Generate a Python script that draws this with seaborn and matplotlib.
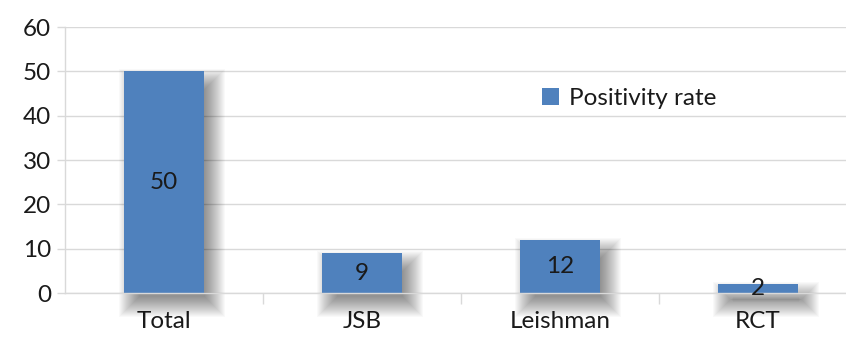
import numpy as np
import pandas as pd
import matplotlib
matplotlib.use("Agg")
import matplotlib.pyplot as plt
import seaborn as sns
from matplotlib.ticker import FixedLocator

categories = ["Total", "JSB", "Leishman", "RCT"]
values = [50, 9, 12, 2]
series_name = "Positivity rate"
yticks = [0, 10, 20, 30, 40, 50, 60]

sns.set_theme(style="white")
plt.rcParams['font.family'] = ['Lato', 'DejaVu Sans']

BLUE = "#4f81bd"
GRID = "#d9d9d9"
FS = 17.5

fig = plt.figure(figsize=(8.46, 3.40), dpi=100)
ax = fig.add_axes([0.0768, 0.138, 0.9362, 0.7824])

df = pd.DataFrame({"cat": categories, "val": values, "series": series_name})

ax.set_xlim(-0.5, 3.5)
ax.set_ylim(0, 60)

# soft drop shadow layers (pixel -> data conversions)
xpx = 4.0 / (0.9362 * 846)
ypx = 60.0 / (0.7824 * 340)
x = np.arange(len(categories))
vals = np.array(values, dtype=float)
dx, dy = 8, 11
for r in range(-7, 14, 1):
    ax.bar(x + dx * xpx, vals + 2 * r * ypx, width=0.4 + 2 * r * xpx,
           bottom=-dy * ypx - r * ypx, color="black", alpha=0.022,
           linewidth=0, zorder=1, clip_on=False)

sns.barplot(data=df, x="cat", y="val", hue="series", palette=[BLUE],
            width=0.4, ax=ax, zorder=3, saturation=1, legend=True,
            linewidth=0)

cont = ax.containers[-1]
for p, v in zip(cont.patches, values):
    ax.text(p.get_x() + p.get_width() / 2, v / 2, str(v), ha="center",
            va="center", fontsize=FS, color="#1a1a1a", zorder=5)

ax.set_yticks(yticks)
ax.yaxis.grid(True, color=GRID, linewidth=1)
ax.set_axisbelow(True)
for s in ["top", "right"]:
    ax.spines[s].set_visible(False)
for s in ["left", "bottom"]:
    ax.spines[s].set_color(GRID)
    ax.spines[s].set_linewidth(1)
ax.spines["bottom"].set_zorder(4)

ax.set_xticks(range(len(categories)))
ax.set_xticklabels(categories)
ax.tick_params(axis="x", length=0, labelsize=FS, labelcolor="#1a1a1a", pad=13)
ax.xaxis.set_minor_locator(FixedLocator([0.5, 1.5, 2.5, 3.5]))
ax.tick_params(axis="x", which="minor", length=8, color=GRID, width=1, bottom=True)
ax.tick_params(axis="y", length=6, color=GRID, width=1, labelsize=FS,
               labelcolor="#1a1a1a", pad=4, left=True)
ax.set_xlabel("")
ax.set_ylabel("")

leg = ax.legend(loc="center left", bbox_to_anchor=(0.59, 0.733), frameon=False,
                fontsize=FS, handlelength=0.7, handleheight=0.7,
                handletextpad=0.4, borderaxespad=0)
for t in leg.get_texts():
    t.set_color("#1a1a1a")

fig.savefig("out.png", dpi=100)
